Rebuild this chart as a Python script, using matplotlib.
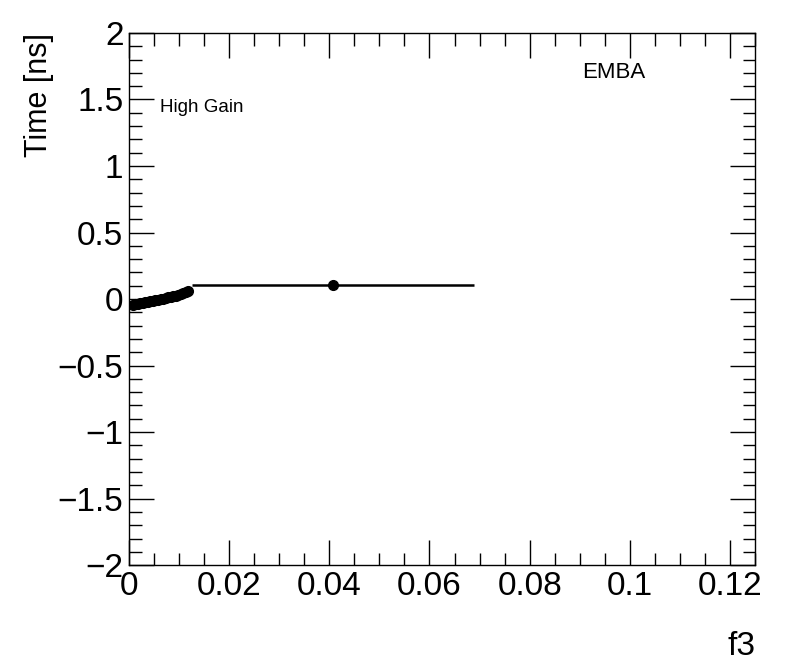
import numpy as np
import matplotlib
matplotlib.use('Agg')
import matplotlib.pyplot as plt
from matplotlib.ticker import MultipleLocator

plt.rcParams['font.family'] = ['Liberation Sans', 'DejaVu Sans']

### points (bin centres, time, half bin width)
f3_vals = [0.0008, 0.0013, 0.0018, 0.0023, 0.0028, 0.0033, 0.0038, 0.0043,
           0.0048, 0.0053, 0.0058, 0.0063, 0.0068, 0.0073, 0.0078, 0.0083,
           0.0088, 0.0093, 0.0098, 0.0103, 0.0108, 0.0113, 0.0118, 0.0407]
time_vals = [-0.045, -0.040, -0.036, -0.032, -0.028, -0.024, -0.020, -0.016,
             -0.012, -0.008, -0.004, 0.000, 0.004, 0.008, 0.012, 0.016,
             0.020, 0.025, 0.030, 0.036, 0.043, 0.052, 0.064, 0.105]
f3_halfwidth = [0.00025]*23 + [0.0281]
time_err = [0.02]*23 + [0.005]

fig = plt.figure(figsize=(7.96, 6.72), dpi=100)
ax = fig.add_axes([0.162, 0.159, 0.7865, 0.792])

ax.errorbar(f3_vals, time_vals, xerr=f3_halfwidth, yerr=time_err,
            fmt='o', color='black', ms=7, lw=1.8, capsize=0)

ax.set_xlim(0, 0.125)
ax.set_ylim(-2, 2)
ax.xaxis.set_major_locator(MultipleLocator(0.02))
ax.xaxis.set_minor_locator(MultipleLocator(0.005))
ax.yaxis.set_major_locator(MultipleLocator(0.5))
ax.yaxis.set_minor_locator(MultipleLocator(0.1))
ax.tick_params(which='both', direction='in', top=True, right=True, labelsize=24, width=1)
ax.tick_params(which='major', length=18)
ax.tick_params(axis='x', which='major', pad=4)
ax.tick_params(axis='y', which='major', pad=4)
ax.tick_params(which='minor', length=9)
ax.set_xticks([0, 0.02, 0.04, 0.06, 0.08, 0.1, 0.12])
ax.set_xticklabels(['0', '0.02', '0.04', '0.06', '0.08', '0.1', '0.12'])
ax.set_yticks([-2, -1.5, -1, -0.5, 0, 0.5, 1, 1.5, 2])
ax.set_yticklabels(['\u22122', '\u22121.5', '\u22121', '\u22120.5', '0', '0.5', '1', '1.5', '2'])
for s in ax.spines.values():
    s.set_linewidth(1)

fig.text(39/796, 1-33/672, 'Time [ns]', rotation=90, ha='center', va='top', fontsize=22)
fig.text(756/796, 1-662/672, 'f3', ha='right', va='bottom', fontsize=24)
ax.text(0.0495, 0.859, 'High Gain', transform=ax.transAxes, fontsize=13.5, va='center')
ax.text(0.7236, 0.925, 'EMBA', transform=ax.transAxes, fontsize=16, va='center')

fig.savefig('out.png', dpi=100)
